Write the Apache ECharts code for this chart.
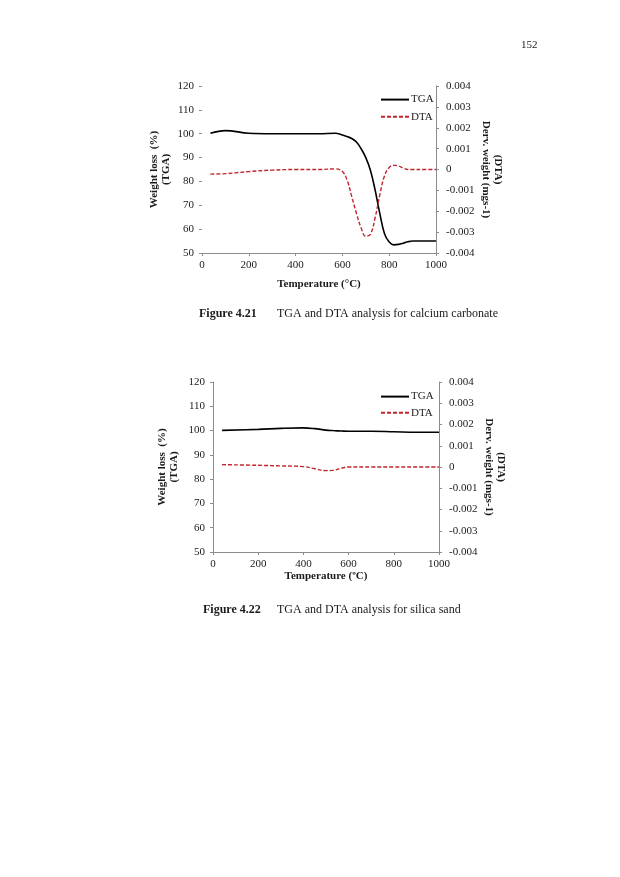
<!DOCTYPE html>
<html>
<head>
<meta charset="utf-8">
<script src="https://cdn.jsdelivr.net/npm/echarts@6/dist/echarts.min.js"></script>
<style>
html,body{margin:0;padding:0;background:#fff;}
#c{width:620px;height:877px;}
</style>
</head>
<body>
<div id="c"></div>
<script>
// Figure 4.21 - calcium carbonate
var temp1 = [36, 100, 200, 300, 400, 500, 570, 600, 620, 640, 660, 680, 700, 720, 740, 760, 780, 800, 820, 840, 860, 880, 900, 950, 1000];
var tga1  = [100.2, 101.3, 100.2, 100.0, 100.0, 100.0, 100.2, 99.5, 98.8, 98.0, 96.5, 93.7, 90.0, 84.6, 76.3, 66.5, 58.1, 54.6, 53.4, 53.6, 54.1, 54.7, 55.0, 55.0, 55.0];
var dta1  = [-0.00022, -0.0002, -0.0001, -0.00003, 0.0, 0.0, 0.00003, -0.0001, -0.0005, -0.0013, -0.0021, -0.0028, -0.0032, -0.0031, -0.0023, -0.0012, -0.0003, 0.0001, 0.0002, 0.00017, 0.00007, 0.0, 0.0, 0.0, 0.0];
// Figure 4.22 - silica sand
var temp2 = [40, 200, 300, 400, 450, 500, 530, 570, 600, 700, 800, 900, 1000];
var tga2  = [100.1, 100.5, 100.9, 101.1, 100.8, 100.2, 100.0, 99.8, 99.7, 99.7, 99.5, 99.3, 99.3];
var dta2  = [0.00011, 0.00008, 0.00005, 0.00002, -0.00008, -0.00017, -0.00016, -0.00005, 0.0, 0.0, 0.0, 0.0, 0.0];

var xTicks = [0, 200, 400, 600, 800, 1000];
var leftTicks = [50, 60, 70, 80, 90, 100, 110, 120];
var rightTicks = [-0.004, -0.003, -0.002, -0.001, 0, 0.001, 0.002, 0.003, 0.004];

function pairs(xs, ys){ return xs.map(function(x,i){ return [x, ys[i]]; }); }

var FONT = '"Liberation Serif", "Times New Roman", serif';
var TXT = '#1a1a1a';
var AX = '#8c8c8c';
var RED = '#c0272d';

function xAx(grid, name, gap){
  return {
    type:'value', gridIndex:grid, min:xTicks[0], max:xTicks[xTicks.length-1], interval:200,
    name:name, nameLocation:'middle', nameGap:gap,
    nameTextStyle:{fontFamily:FONT, fontSize:11, fontWeight:'bold', color:TXT},
    axisLine:{show:true, onZero:false, lineStyle:{color:AX, width:1}},
    axisTick:{show:true, length:3, inside:false, lineStyle:{color:AX}},
    axisLabel:{fontFamily:FONT, fontSize:11, color:TXT, margin:7, formatter:function(v){ return String(v); }},
    splitLine:{show:false}
  };
}
function yLeft(grid, showLine, gap){
  return {
    type:'value', gridIndex:grid, position:'left', min:leftTicks[0], max:leftTicks[leftTicks.length-1], interval:10,
    name:'Weight loss  (%)\n(TGA)', nameLocation:'middle', nameGap:gap, nameRotate:90,
    nameTextStyle:{fontFamily:FONT, fontSize:11, fontWeight:'bold', color:TXT, lineHeight:12},
    axisLine:{show:showLine, onZero:false, lineStyle:{color:AX, width:1}},
    axisTick:{show:true, length:3, lineStyle:{color:AX}},
    axisLabel:{fontFamily:FONT, fontSize:11, color:TXT, margin:8},
    splitLine:{show:false}
  };
}
function yRight(grid){
  return {
    type:'value', gridIndex:grid, position:'right', min:rightTicks[0], max:rightTicks[rightTicks.length-1], interval:0.001,
    name:'(DTA)\nDerv. weight (mgs-1)', nameLocation:'middle', nameGap:44, nameRotate:-90,
    nameTextStyle:{fontFamily:FONT, fontSize:11, fontWeight:'bold', color:TXT, lineHeight:12},
    axisLine:{show:true, onZero:false, lineStyle:{color:AX, width:1}},
    axisTick:{show:true, length:3, lineStyle:{color:AX}},
    axisLabel:{fontFamily:FONT, fontSize:11, color:TXT, margin:10,
      formatter:function(v){ var r=Math.round(v*1000)/1000; return r===0?'0':r.toFixed(3); }},
    splitLine:{show:false}
  };
}

var legendCommon = {orient:'vertical', left:375, itemWidth:28, itemHeight:14, itemGap:6,
  itemStyle:{opacity:0},
  textStyle:{fontFamily:FONT, fontSize:11, color:TXT, padding:[0,0,0,-3]}};

var chart = echarts.init(document.getElementById('c'), null, {renderer:'canvas'});
chart.setOption({
  backgroundColor:'#ffffff',
  animation:false,
  grid:[
    {left:202, top:86, width:234, height:167},
    {left:213, top:382, width:226, height:170}
  ],
  xAxis:[ xAx(0,'Temperature (°C)',26), xAx(1,'Temperature (ºC)',17) ],
  yAxis:[ yLeft(0,false,30), yRight(0), yLeft(1,true,33), yRight(1) ],
  legend:[
    Object.assign({}, legendCommon, {top:89, data:['TGA','DTA']}),
    Object.assign({}, legendCommon, {top:386, itemGap:5, data:['TGA ','DTA ']})
  ],
  series:[
    {name:'TGA', type:'line', xAxisIndex:0, yAxisIndex:0, smooth:0.4, symbol:'none',
     lineStyle:{color:'#000', width:1.6}, itemStyle:{color:'#000'}, data:pairs(temp1,tga1)},
    {name:'DTA', type:'line', xAxisIndex:0, yAxisIndex:1, smooth:0.4, symbol:'none',
     lineStyle:{color:RED, width:1.4, type:[4,2]}, itemStyle:{color:RED}, data:pairs(temp1,dta1)},
    {name:'TGA ', type:'line', xAxisIndex:1, yAxisIndex:2, smooth:0.4, symbol:'none',
     lineStyle:{color:'#000', width:1.6}, itemStyle:{color:'#000'}, data:pairs(temp2,tga2)},
    {name:'DTA ', type:'line', xAxisIndex:1, yAxisIndex:3, smooth:0.4, symbol:'none',
     lineStyle:{color:RED, width:1.4, type:[4,2]}, itemStyle:{color:RED}, data:pairs(temp2,dta2)}
  ],
  graphic:[
    {type:'text', left:521, top:40, style:{text:'152', font:'11px '+FONT, fill:TXT}},
    {type:'text', left:199, top:308, style:{text:'Figure 4.21', font:'bold 12px '+FONT, fill:TXT}},
    {type:'text', left:277, top:308, style:{text:'TGA and DTA analysis for calcium carbonate', font:'12px '+FONT, fill:TXT}},
    {type:'text', left:203, top:604, style:{text:'Figure 4.22', font:'bold 12px '+FONT, fill:TXT}},
    {type:'text', left:277, top:604, style:{text:'TGA and DTA analysis for silica sand', font:'12px '+FONT, fill:TXT}}
  ]
});
</script>
</body>
</html>
